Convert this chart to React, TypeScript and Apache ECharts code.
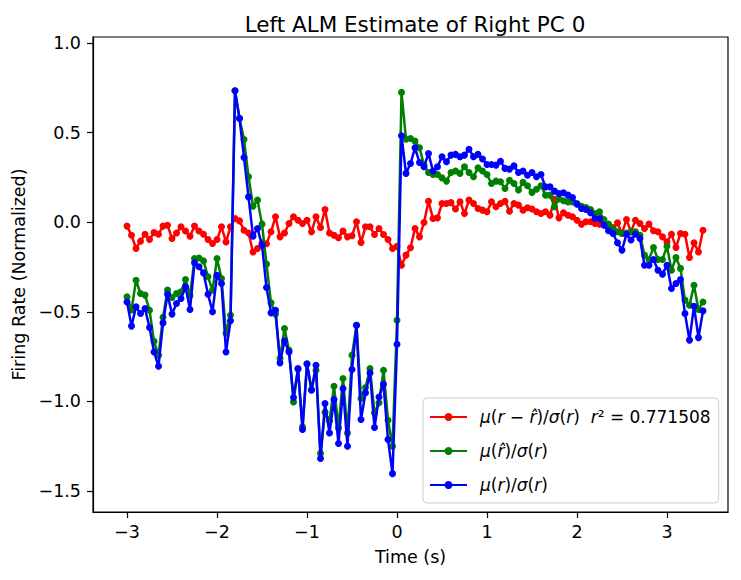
import React, { useEffect, useRef } from "react";
import * as echarts from "echarts";

// time axis (s), sampled every 50 ms
const TIME = [
  -3, -2.95, -2.9, -2.85, -2.8, -2.75, -2.7, -2.65, -2.6, -2.55,
  -2.5, -2.45, -2.4, -2.35, -2.3, -2.25, -2.2, -2.15, -2.1, -2.05,
  -2, -1.95, -1.9, -1.85, -1.8, -1.75, -1.7, -1.65, -1.6, -1.55,
  -1.5, -1.45, -1.4, -1.35, -1.3, -1.25, -1.2, -1.15, -1.1, -1.05,
  -1, -0.95, -0.9, -0.85, -0.8, -0.75, -0.7, -0.65, -0.6, -0.55,
  -0.5, -0.45, -0.4, -0.35, -0.3, -0.25, -0.2, -0.15, -0.1, -0.05,
  0, 0.05, 0.1, 0.15, 0.2, 0.25, 0.3, 0.35, 0.4, 0.45,
  0.5, 0.55, 0.6, 0.65, 0.7, 0.75, 0.8, 0.85, 0.9, 0.95,
  1, 1.05, 1.1, 1.15, 1.2, 1.25, 1.3, 1.35, 1.4, 1.45,
  1.5, 1.55, 1.6, 1.65, 1.7, 1.75, 1.8, 1.85, 1.9, 1.95,
  2, 2.05, 2.1, 2.15, 2.2, 2.25, 2.3, 2.35, 2.4, 2.45,
  2.5, 2.55, 2.6, 2.65, 2.7, 2.75, 2.8, 2.85, 2.9, 2.95,
  3, 3.05, 3.1, 3.15, 3.2, 3.25, 3.3, 3.35, 3.4,
];

// μ(r − r̂)/σ(r)
const RESIDUAL = [
  -0.022, -0.073, -0.147, -0.106, -0.067, -0.097, -0.058, -0.067, -0.022, -0.017,
  -0.091, -0.06, -0.026, -0.049, -0.078, -0.022, -0.049, -0.067, -0.097, -0.119,
  -0.097, -0.026, -0.11, -0.026, 0.02, 0.007, -0.045, -0.06, -0.166, -0.147,
  -0.117, -0.12, -0.054, 0.03, -0.082, -0.06, -0.007, 0.03, 0.011, -0.007,
  0.011, -0.054, 0.03, -0.03, 0.07, -0.06, -0.073, -0.087, -0.05, -0.082,
  -0.076, 0.002, -0.113, -0.026, -0.026, -0.069, -0.035, -0.069, -0.097, -0.147,
  -0.135, -0.24, -0.184, -0.143, -0.035, -0.082, -0.002, 0.117, 0.02, 0.024,
  0.104, 0.104, 0.109, 0.073, 0.113, 0.048, 0.123, 0.104, 0.076, 0.067,
  0.058, 0.113, 0.086, 0.104, 0.117, 0.061, 0.104, 0.095, 0.067, 0.08,
  0.073, 0.058, 0.048, 0.058, 0.039, 0.128, 0.024, 0.052, 0.039, 0.03,
  0.011, -0.011, 0.002, 0.002, -0.007, -0.011, -0.007, -0.017, -0.03, -0.004,
  -0.063, 0.015, -0.054, 0.011, -0.007, -0.035, -0.011, -0.048, -0.054, -0.082,
  -0.11, -0.067, -0.141, -0.063, -0.067, -0.197, -0.115, -0.166, -0.045,
];

// μ(r̂)/σ(r)
const ESTIMATE = [
  -0.417, -0.49, -0.324, -0.398, -0.407, -0.491, -0.665, -0.742, -0.53, -0.378,
  -0.42, -0.398, -0.389, -0.32, -0.41, -0.203, -0.2, -0.216, -0.305, -0.38,
  -0.203, -0.314, -0.62, -0.52, 0.733, 0.58, 0.461, 0.253, 0.089, 0.123,
  -0.011, -0.234, -0.45, -0.513, -0.76, -0.593, -0.714, -1.003, -0.82, -1.142,
  -0.79, -0.934, -0.826, -1.29, -1.06, -1.109, -0.915, -1.148, -0.872, -1.176,
  -0.742, -0.575, -0.984, -0.923, -0.817, -1.064, -1.008, -0.826, -1.105, -1.25,
  -0.547, 0.724, 0.463, 0.467, 0.452, 0.415, 0.318, 0.277, 0.266, 0.266,
  0.247, 0.229, 0.277, 0.285, 0.272, 0.309, 0.277, 0.253, 0.303, 0.285,
  0.266, 0.216, 0.229, 0.225, 0.188, 0.234, 0.216, 0.179, 0.222, 0.203,
  0.166, 0.184, 0.203, 0.151, 0.151, 0.086, 0.13, 0.119, 0.113, 0.113,
  0.104, 0.089, 0.082, 0.071, 0.048, 0.058, 0.015, -0.011, -0.035, -0.054,
  -0.063, -0.06, -0.054, -0.054, -0.073, -0.184, -0.208, -0.141, -0.208, -0.208,
  -0.134, -0.268, -0.197, -0.258, -0.435, -0.463, -0.352, -0.487, -0.445,
];

// μ(r)/σ(r)
const ACTUAL = [
  -0.445, -0.58, -0.472, -0.51, -0.482, -0.588, -0.724, -0.804, -0.562, -0.402,
  -0.513, -0.454, -0.426, -0.361, -0.487, -0.227, -0.249, -0.283, -0.402, -0.5,
  -0.296, -0.342, -0.724, -0.55, 0.733, 0.578, 0.361, 0.141, -0.078, -0.035,
  -0.128, -0.365, -0.506, -0.491, -0.785, -0.662, -0.724, -0.978, -0.817, -1.157,
  -0.792, -0.938, -0.798, -1.319, -1.012, -1.176, -0.99, -1.235, -0.928, -1.25,
  -0.822, -0.575, -1.101, -0.952, -0.841, -1.146, -0.975, -0.904, -1.213, -1.403,
  -0.681, 0.482, 0.272, 0.327, 0.415, 0.333, 0.309, 0.383, 0.285, 0.309,
  0.365, 0.337, 0.374, 0.378, 0.365, 0.374, 0.407, 0.365, 0.378, 0.352,
  0.322, 0.322, 0.318, 0.34, 0.3, 0.296, 0.314, 0.277, 0.285, 0.262,
  0.277, 0.253, 0.266, 0.197, 0.197, 0.173, 0.16, 0.164, 0.151, 0.138,
  0.1, 0.076, 0.071, 0.052, 0.02, 0.02, -0.017, -0.048, -0.063, -0.115,
  -0.156, -0.067, -0.1, -0.067, -0.091, -0.24, -0.24, -0.208, -0.268, -0.29,
  -0.24, -0.37, -0.342, -0.32, -0.51, -0.658, -0.469, -0.644, -0.495,
];

const X_TICKS = [-3, -2, -1, 0, 1, 2, 3];
const Y_TICKS = [-1.5, -1.0, -0.5, 0.0, 0.5, 1.0];

const SERIES_NAMES = ["μ(r − r̂)/σ(r)  r² = 0.771508", "μ(r̂)/σ(r)", "μ(r)/σ(r)"];
const SERIES_COLORS = ["#ff0000", "#008000", "#0000ff"];

// mathtext-like legend labels (italic variables)
const LEGEND_RICH: Record<string, string> = {
  [SERIES_NAMES[0]]:
    "{i|μ}{n|(}{i|r}{n| − }{i|r̂}{n|)/}{i|σ}{n|(}{i|r}{n|)  }{i|r}{n|² = 0.771508}",
  [SERIES_NAMES[1]]: "{i|μ}{n|(}{i|r̂}{n|)/}{i|σ}{n|(}{i|r}{n|)}",
  [SERIES_NAMES[2]]: "{i|μ}{n|(}{i|r}{n|)/}{i|σ}{n|(}{i|r}{n|)}",
};

const FONT = "DejaVu Sans";
const minus = (s: string) => s.replace("-", "\u2212");

const App: React.FC = () => {
  const chartRef = useRef<HTMLDivElement>(null);

  useEffect(() => {
    if (!chartRef.current) return;
    const chart = echarts.init(chartRef.current, undefined, { renderer: "svg" });

    const values = [RESIDUAL, ESTIMATE, ACTUAL];
    const series = values.map((vals, i) => ({
      type: "line",
      name: SERIES_NAMES[i],
      data: TIME.map((t, k) => [t, vals[k]]),
      symbol: "circle",
      symbolSize: 7,
      lineStyle: { color: SERIES_COLORS[i], width: 2.5 },
      itemStyle: { color: SERIES_COLORS[i] },
      emphasis: { disabled: true },
      z: 2 + i,
    }));

    chart.setOption({
      animation: false,
      backgroundColor: "#ffffff",
      textStyle: { fontFamily: FONT },
      title: {
        text: "Left ALM Estimate of Right PC 0",
        left: 410,
        top: 8,
        textAlign: "center",
        textStyle: {
          fontFamily: FONT,
          fontSize: 21.5,
          fontWeight: "normal",
          color: "#000",
        },
      },
      grid: {
        left: 93,
        right: 13,
        top: 37,
        bottom: 68,
        show: true,
        borderColor: "#000",
        borderWidth: 1.2,
        backgroundColor: "transparent",
      },
      legend: {
        orient: "vertical",
        left: 423,
        top: 398,
        itemWidth: 37,
        itemHeight: 10,
        itemGap: 14,
        padding: [9, 8, 8, 6],
        backgroundColor: "rgba(255,255,255,0.8)",
        borderColor: "#cccccc",
        borderWidth: 1,
        borderRadius: 4,
        data: SERIES_NAMES,
        formatter: (name: string) => LEGEND_RICH[name] ?? name,
        textStyle: {
          fontFamily: FONT,
          fontSize: 17,
          color: "#000",
          lineHeight: 20,
          padding: [0, 0, 0, 8],
          rich: {
            i: { fontFamily: FONT, fontSize: 17, fontStyle: "italic", color: "#000" },
            n: { fontFamily: FONT, fontSize: 17, color: "#000" },
          },
        },
      },
      xAxis: {
        type: "value",
        min: -3.378,
        max: 3.678,
        name: "Time (s)",
        nameLocation: "middle",
        nameGap: 36,
        nameTextStyle: { fontFamily: FONT, fontSize: 17.5, color: "#000" },
        axisLine: { show: true, onZero: false, lineStyle: { color: "#000", width: 1.2 } },
        axisTick: {
          show: true,
          length: 6,
          inside: false,
          customValues: X_TICKS,
          lineStyle: { color: "#000", width: 1.2 },
        },
        axisLabel: {
          customValues: X_TICKS,
          margin: 11,
          fontFamily: FONT,
          fontSize: 17.5,
          color: "#000",
          formatter: (v: number) => minus(String(v)),
        },
        splitLine: { show: false },
      },
      yAxis: {
        type: "value",
        min: -1.617,
        max: 1.033,
        name: "Firing Rate (Normalized)",
        nameLocation: "middle",
        nameGap: 64,
        nameRotate: 90,
        nameTextStyle: { fontFamily: FONT, fontSize: 17.5, color: "#000" },
        axisLine: { show: true, onZero: false, lineStyle: { color: "#000", width: 1.2 } },
        axisTick: {
          show: true,
          length: 6,
          inside: false,
          customValues: Y_TICKS,
          lineStyle: { color: "#000", width: 1.2 },
        },
        axisLabel: {
          customValues: Y_TICKS,
          margin: 12,
          fontFamily: FONT,
          fontSize: 17.5,
          color: "#000",
          formatter: (v: number) => minus(v.toFixed(1)),
        },
        splitLine: { show: false },
      },
      series,
    });

    return () => {
      chart.dispose();
    };
  }, []);

  return (
    <div
      ref={chartRef}
      style={{ position: "absolute", left: 0, top: 0, width: 741, height: 580 }}
    />
  );
};

export default App;
